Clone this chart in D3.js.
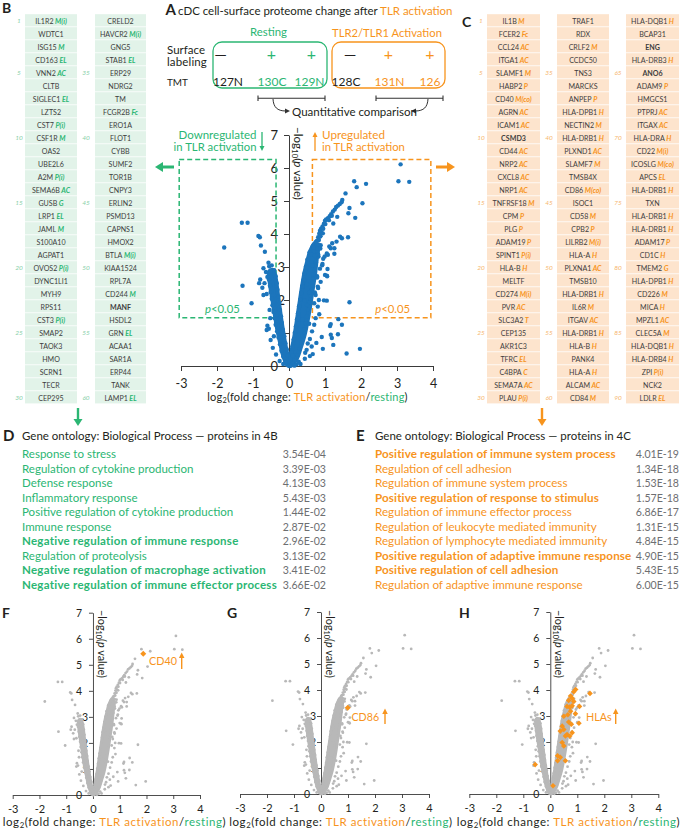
<!DOCTYPE html>
<html><head><meta charset="utf-8">
<script src="https://cdn.jsdelivr.net/npm/d3@7/dist/d3.min.js"></script>
<style>html,body{margin:0;padding:0;background:#fff}svg{display:block}text{white-space:pre}</style>
</head><body>
<svg id="fig" width="681" height="832" font-family="Lato, 'Open Sans', sans-serif"></svg>
<script>
// ---------------- DATA ----------------
const genesB = ["IL1R2","WDTC1","ISG15","CD163","VNN2","CLTB","SIGLEC1","LZTS2","CST7","CSF1R","OAS2","UBE2L6","A2M","SEMA6B","GUSB","LRP1","JAML","S100A10","AGPAT1","OVOS2","DYNC1LI1","MYH9","RPS11","CST3","SMAP2","TAOK3","HMO","SCRN1","TECR","CEP295",
 "CRELD2","HAVCR2","GNG5","STAB1","ERP29","NDRG2","TM","FCGR2B","ERO1A","FLOT1","CYBB","SUMF2","TOR1B","CNPY3","ERLIN2","PSMD13","CAPNS1","HMOX2","BTLA","KIAA1524","RPL7A","CD244","MANF","HSDL2","GRN","ACAA1","SAR1A","ERP44","TANK","LAMP1"];
const catsB = ["M(i)","","M","EL","AC","","EL","","P(i)","M","","","P(i)","AC","G","EL","M","","","P(i)","","","","P(i)","","","","","","",
 "","M(i)","","EL","","","","Fc","","","","","","","","","","","M(i)","","","M","","","EL","","","","","EL"];
const genesC = ["IL1B","FCER2","CCL24","ITGA1","SLAMF1","HABP2","CD40","AGRN","ICAM1","CSMD3","CD44","NRP2","CXCL8","NRP1","TNFRSF18","CPM","PLG","ADAM19","SPINT1","HLA-B","MELTF","CD274","PVR","SLC3A2","CEP135","AKR1C3","TFRC","C4BPA","SEMA7A","PLAU",
 "TRAF1","RDX","CRLF2","CCDC50","TNS3","MARCKS","ANPEP","HLA-DPB1","NECTIN2","HLA-DRB1","PLXND1","SLAMF7","TMSB4X","CD86","ISOC1","CD58","CPB2","LILRB2","HLA-A","PLXNA1","TMSB10","HLA-DRB1","IL6R","ITGAV","HLA-DRB1","HLA-B","PANK4","HLA-A","ALCAM","CD84",
 "HLA-DQB1","BCAP31","ENG","HLA-DRB3","ANO6","ADAM9","HMGCS1","PTPRJ","ITGAX","HLA-DRA","CD22","ICOSLG","APCS","HLA-DRB1","TXN","HLA-DRB1","HLA-DRB1","ADAM17","CD1C","TMEM2","HLA-DPB1","CD226","MICA","MPZL1","CLEC5A","HLA-DQB1","HLA-DRB4","ZPI","NCK2","LDLR"];
const catsC = ["M","Fc","AC","AC","M","P","M(co)","AC","AC","","AC","AC","AC","AC","M","P","P","P","P(i)","H","","M(i)","AC","T","","","EL","C","AC","P(i)",
 "","","M","","","","P","H","M","H","AC","M","","M(co)","","M","P","M(i)","H","AC","","H","M","AC","H","H","","H","AC","M",
 "H","","","H","","P","","AC","AC","H","M(i)","M(co)","EL","H","","H","H","P","H","G","H","M","H","AC","M","H","H","P(i)","","EL"];
const boldGenes = ["MANF","CSMD3","ENG","ANO6"];

const goB_terms = ["Response to stress","Regulation of cytokine production","Defense response","Inflammatory response","Positive regulation of cytokine production","Immune response","Negative regulation of immune response","Regulation of proteolysis","Negative regulation of macrophage activation","Negative regulation of immune effector process"];
const goB_p = ["3.54E-04","3.39E-03","4.13E-03","5.43E-03","1.44E-02","2.87E-02","2.96E-02","3.13E-02","3.41E-02","3.66E-02"];
const goB_bold = [6,8,9];
const goC_terms = ["Positive regulation of immune system process","Regulation of cell adhesion","Regulation of immune system process","Positive regulation of response to stimulus","Regulation of immune effector process","Regulation of leukocyte mediated immunity","Regulation of lymphocyte mediated immunity","Positive regulation of adaptive immune response","Positive regulation of cell adhesion","Regulation of adaptive immune response"];
const goC_p = ["4.01E-19","1.34E-18","1.53E-18","1.57E-18","6.86E-17","1.31E-15","4.84E-15","4.90E-15","5.43E-15","6.00E-15"];
const goC_bold = [0,3,7,8];

const xTicks = [-3,-2,-1,0,1,2,3,4];
const yTicks = [0,1,2,3,4,5,6,7];

// volcano: [log2 fold change, -log10 p]
const outliers = [
 [3.10,6.11],[3.04,5.60],[3.34,5.58],[1.81,5.60],[2.14,5.52],[1.57,5.23],[2.04,4.93],[1.84,4.49],[1.65,4.63],[1.68,4.79],
 [1.48,5.03],[1.46,4.96],[1.41,4.91],[1.36,4.86],[1.31,4.82],[1.27,4.74],[1.22,4.68],[1.17,4.60],[1.13,4.54],[1.08,4.48],[1.03,4.44],[1.00,4.40],[0.97,4.31],[0.93,4.23],[0.89,4.16],[0.86,4.10],[0.84,4.01],[0.81,3.90],[0.78,3.80],[0.76,3.71],[1.19,4.55],[1.11,4.42],[1.01,4.30],[0.95,4.16],[0.90,4.05],[0.87,3.93],[0.83,3.82],
 [1.34,4.52],[1.23,4.32],[1.42,3.92],[1.64,3.90],[1.26,3.57],[1.16,3.57],[1.26,3.40],[1.05,3.41],[0.88,3.66],[1.05,2.74],[1.00,2.76],[1.32,3.77],[1.20,3.72],[0.82,3.32],[0.95,3.25],[1.07,2.94],[0.92,3.05],[1.12,3.62],
 [0.83,2.00],[0.97,1.99],[1.05,1.98],[1.68,1.93],[0.84,1.57],[0.74,1.45],[1.16,1.27],[1.37,1.42],[1.47,1.25],[1.16,0.95],[0.91,0.88],[1.23,0.64],[1.97,0.52],[1.60,0.38],[0.94,0.52],[0.49,0.49],[0.63,0.59],[0.58,0.82],[0.64,1.05],[0.70,1.25],[0.80,2.40],[0.88,2.55],[0.78,2.72],[0.86,2.95],[0.80,1.80],[0.70,1.90],[0.74,2.15],[0.58,0.30],[0.44,0.22],[1.14,1.21],[1.36,0.96],[1.19,0.85],[0.52,0.68],[0.45,0.40],[0.66,0.36],[0.76,0.70],
 [-1.80,3.59],[-1.31,4.34],[-1.15,4.34],[-0.85,3.94],[-0.81,3.90],[-0.78,3.65],[-0.67,3.46],[-0.57,3.13],[-0.55,3.02],[-0.71,2.96],[-1.29,2.43],[-1.04,1.90],[-0.83,2.51],[-0.80,2.62],[-0.68,2.51],[-0.74,2.37],[-0.71,2.15],[-0.62,2.18],[-0.60,2.70],[-0.62,1.09],[-0.54,1.70],[-0.60,1.22],[-0.51,0.79],[-0.42,0.90],[-0.45,0.55],[-0.36,0.35],[-0.26,0.15],[-0.52,1.45],[-0.64,2.85],[-0.48,3.05]
];
const armPoints = [
 [-0.57,2.82],[-0.56,2.62],[-0.53,2.43],[-0.51,2.24],[-0.48,2.04],[-0.46,1.84],[-0.43,1.64],[-0.40,1.45],[-0.37,1.25],[-0.33,1.05],[-0.29,0.86],[-0.25,0.66],[-0.21,0.46],[-0.16,0.29],[-0.10,0.13],
 [-0.41,2.90],[-0.37,2.72],[-0.34,2.51],[-0.32,2.31],[-0.30,2.10],[-0.27,1.91],[-0.25,1.70],[-0.22,1.50],[-0.20,1.31],[-0.17,1.10],[-0.13,0.90],[-0.10,0.69],[-0.06,0.50],[-0.03,0.31],
 [0.80,3.55],[0.77,3.35],[0.75,3.14],[0.72,2.93],[0.69,2.73],[0.66,2.52],[0.63,2.31],[0.60,2.12],[0.57,1.92],[0.53,1.70],[0.50,1.51],[0.46,1.30],[0.42,1.10],[0.38,0.91],[0.34,0.71],[0.30,0.52],[0.24,0.33],[0.16,0.16],
 [0.66,3.62],[0.57,3.44],[0.51,3.22],[0.47,3.01],[0.43,2.81],[0.40,2.60],[0.37,2.41],[0.34,2.21],[0.31,2.01],[0.28,1.81],[0.25,1.60],[0.22,1.41],[0.19,1.20],[0.16,1.01],[0.13,0.80],[0.10,0.60],[0.07,0.41],[0.04,0.22],
 [0.00,0.04],[0.05,0.02],[-0.05,0.03],[0.11,0.07],[-0.09,0.09],[0.21,0.05],[0.15,0.01],[-0.16,0.06],[0.27,0.13],[0.32,0.06]
];
// dense cores (outline of the solid point mass)
const leftArm = [[0.00,0.00],[-0.10,0.15],[-0.18,0.40],[-0.25,0.75],[-0.32,1.10],[-0.38,1.50],[-0.44,1.90],[-0.50,2.30],[-0.54,2.65],[-0.53,2.88],[-0.44,2.90],[-0.38,2.70],[-0.34,2.40],[-0.30,2.05],[-0.25,1.65],[-0.19,1.20],[-0.13,0.80],[-0.07,0.45],[-0.02,0.20]];
const rightArm = [[0.02,0.00],[0.20,0.20],[0.32,0.55],[0.42,0.90],[0.50,1.30],[0.58,1.80],[0.65,2.30],[0.72,2.80],[0.76,3.20],[0.80,3.60],[0.72,3.72],[0.60,3.50],[0.52,3.20],[0.45,2.90],[0.38,2.50],[0.31,2.00],[0.24,1.50],[0.17,1.00],[0.10,0.60],[0.05,0.30],[-0.02,0.08]];
const hlaPts = [[0.94,4.02],[0.87,3.93],[1.47,3.87],[0.75,3.77],[0.81,3.68],[0.68,3.60],[0.87,3.56],[0.62,3.37],[0.72,3.34],[0.81,3.39],[1.08,3.37],[0.75,3.18],[0.93,3.09],[0.65,3.05],[0.50,2.99],[1.06,2.72],[0.68,2.77],[0.44,2.61],[0.78,2.68],[0.37,2.42],[0.50,2.48],[0.62,2.29],[0.72,2.23],[0.56,2.23],[0.81,2.36],[0.44,1.98],[0.50,1.85],[0.27,1.47],[0.37,1.41],[0.27,1.28],[0.56,1.28],[-0.56,1.13],[0.10,0.32]];
const cd40 = [1.88,5.42];
const cd86 = [0.99,3.32];
const gateDown = [-3.05,-0.36], gateUp = [0.65,3.94], gateY = [1.46,6.26];

// ---------------- STYLE ----------------
const GREEN = "#2bb673", ORANGE = "#f7941d", BLUE = "#1c75bc", GRAY = "#b8b8b8", INK = "#231f20";
const CELL_G = "#e2f3e9", CELL_O = "#fde4cd", NUM_G = "#86cfa8", NUM_O = "#f6b56e", PV = "#6d6e71";

const svg = d3.select("#fig");

function T(parent, x, y, parts, o = {}) {
  const t = parent.append("text").attr("x", x).attr("y", y)
    .attr("font-size", o.size || 12).attr("fill", o.fill || INK)
    .attr("text-anchor", o.anchor || "start");
  if (o.weight) t.attr("font-weight", o.weight);
  if (o.italic) t.attr("font-style", "italic");
  if (o.tr) t.attr("transform", o.tr);
  if (o.db) t.attr("dominant-baseline", o.db);
  if (typeof parts === "string") parts = [[parts]];
  parts.forEach(([s, st = {}]) => {
    const sp = t.append("tspan").text(s);
    if (st.fill) sp.attr("fill", st.fill);
    if (st.weight) sp.attr("font-weight", st.weight);
    if (st.italic) sp.attr("font-style", "italic");
    if (st.size) sp.attr("font-size", st.size);
    if (st.dy) sp.attr("dy", st.dy);
  });
  if (o.w) {
    const m = t.node().getComputedTextLength();
    if (m > 0) t.attr("font-size", (o.size || 12) * o.w / m);
  }
  if (o.lw) fitSpacing(t, o.lw);
  return t;
}
function fitSpacing(t, w) {
  t.attr("letter-spacing", 0);
  const m = t.node().getComputedTextLength();
  const n = t.text().length;
  t.attr("letter-spacing", (w - m) / Math.max(1, n));
}
function arrow(x1, y1, x2, y2, col, sw, hl, hw) {
  const a = Math.atan2(y2 - y1, x2 - x1);
  const bx = x2 - hl * Math.cos(a), by = y2 - hl * Math.sin(a);
  svg.append("line").attr("x1", x1).attr("y1", y1).attr("x2", bx + Math.cos(a)).attr("y2", by + Math.sin(a))
    .attr("stroke", col).attr("stroke-width", sw);
  const px = -Math.sin(a) * hw / 2, py = Math.cos(a) * hw / 2;
  svg.append("path").attr("d", `M${x2},${y2}L${bx + px},${by + py}L${bx - px},${by - py}Z`).attr("fill", col);
}

// ---------------- PANELS B & C ----------------
const ROW_H = 13, CELL_TOP = 14.2;
function cellTable(genes, cats, cols, bg, catCol, numCol) {
  const texts = [];
  genes.forEach((g, i) => {
    const c = Math.floor(i / 30), r = i % 30, col = cols[c];
    const top = CELL_TOP + r * ROW_H;
    svg.append("rect").attr("x", col.x).attr("y", top).attr("width", col.w).attr("height", ROW_H - 0.8).attr("fill", bg);
    const parts = [[g, boldGenes.includes(g) ? { weight: "bold" } : {}]];
    if (cats[i]) parts.push([" " + cats[i], { fill: catCol, weight: "bold", italic: true }]);
    texts.push(T(svg, col.x + col.w / 2, top + ROW_H / 2 + 2.8, parts, { size: 8, anchor: "middle", fill: "#3d3d3d" }));
    const n = i + 1;
    if (n === 1 || n % 5 === 0) T(svg, col.nx, top + ROW_H / 2 + 2.4, String(n), { size: 6.5, anchor: "middle", fill: numCol, italic: true });
  });
  return texts;
}
const tB = cellTable(genesB, catsB, [{ x: 25, w: 52, nx: 19 }, { x: 95, w: 51, nx: 86 }], CELL_G, GREEN, NUM_G);
const tC = cellTable(genesC, catsC, [{ x: 487, w: 53, nx: 481 }, { x: 557, w: 52, nx: 549 }, { x: 626, w: 53, nx: 618 }], CELL_O, ORANGE, NUM_O);
(function () {
  const ref = tC[genesC.indexOf("TNFRSF18")];
  const f = 8 * 42 / ref.node().getComputedTextLength();
  tB.concat(tC).forEach(t => t.attr("font-size", f));
})();
T(svg, 2, 13, "B", { size: 14, weight: "bold" });
T(svg, 462, 27, "C", { size: 14, weight: "bold" });
arrow(78, 408, 78, 426, GREEN, 2.4, 7, 9);
arrow(542, 408, 542, 426, ORANGE, 2.4, 7, 9);

// ---------------- PANEL A schematic ----------------
T(svg, 165.5, 15, "A", { size: 15, weight: "bold" });
T(svg, 178, 14.5, [["cDC cell-surface proteome change after "], ["TLR activation", { fill: ORANGE }]], { size: 13, w: 275 });
T(svg, 268.5, 35.5, "Resting", { size: 12.5, anchor: "middle", fill: GREEN, w: 37 });
T(svg, 387, 36.5, "TLR2/TLR1 Activation", { size: 12.5, anchor: "middle", fill: ORANGE, w: 110 });
svg.append("rect").attr("x", 213).attr("y", 42).attr("width", 114).attr("height", 46).attr("rx", 9)
  .attr("fill", "none").attr("stroke", GREEN).attr("stroke-width", 1.3);
svg.append("rect").attr("x", 332).attr("y", 42).attr("width", 113).attr("height", 46).attr("rx", 9)
  .attr("fill", "none").attr("stroke", ORANGE).attr("stroke-width", 1.3);
T(svg, 167, 53.5, "Surface", { size: 11.5, lw: 38 });
T(svg, 167, 66, "labeling", { size: 11.5, lw: 40 });
T(svg, 167, 86, "TMT", { size: 13, w: 21 });
const labelX = [220.5, 271.5, 311.5, 350, 388.5, 430];
const labelSym = ["—", "+", "+", "—", "+", "+"];
const labelCol = [INK, GREEN, GREEN, INK, ORANGE, ORANGE];
labelSym.forEach((s, i) => T(svg, labelX[i], 53, s, { size: 16, anchor: "middle", fill: labelCol[i], db: "central" }));
const tmtX = [228, 272, 309.5, 346, 389.5, 430];
const tmtLab = ["127N", "130C", "129N", "128C", "131N", "126"];
tmtLab.forEach((s, i) => T(svg, tmtX[i], 86, s, { size: 12, anchor: "middle", fill: labelCol[i] }));
[[258, 325], [376, 443]].forEach(([a, b]) => {
  svg.append("path").attr("d", `M${a},95.5V101M${a},98.3H${b}M${b},95.5V101`).attr("stroke", "#333").attr("stroke-width", 1.1).attr("fill", "none");
});
svg.append("path").attr("d", "M273,99 C273.5,107 277,111 286,111").attr("stroke", "#333").attr("stroke-width", 1).attr("fill", "none");
svg.append("path").attr("d", "M290,111 L285,108.5 L285,113.5Z").attr("fill", "#333");
svg.append("path").attr("d", "M428,99 C427.5,107 424,111 415,111").attr("stroke", "#333").attr("stroke-width", 1).attr("fill", "none");
svg.append("path").attr("d", "M411,111 L416,108.5 L416,113.5Z").attr("fill", "#333");
T(svg, 354.5, 115.5, "Quantitative comparison", { size: 12.5, anchor: "middle", w: 125 });

// ---------------- VOLCANO ----------------
function volcano(o) {
  const g = svg.append("g");
  const x = d3.scaleLinear().domain([-3, 4]).range([o.x0, o.x1]);
  const y = d3.scaleLinear().domain([0, 7]).range([o.y0, o.y1]);
  const axX = g.append("g").attr("transform", `translate(0,${o.y0})`)
    .call(d3.axisBottom(x).tickValues(xTicks).tickFormat(d => String(d)).tickSize(o.tk).tickSizeOuter(0).tickPadding(o.xpad));
  const axY = g.append("g").attr("transform", `translate(${x(0)},0)`)
    .call(d3.axisLeft(y).tickValues(yTicks).tickFormat(d => String(d)).tickSize(o.tk).tickSizeOuter(0).tickPadding(o.ypad));
  [axX, axY].forEach(a => {
    a.attr("font-family", null).attr("font-size", null).attr("color", "#3a3a3a");
    a.selectAll("path,line").attr("stroke-width", o.axw);
    a.selectAll("text").attr("fill", INK);
  });
  axX.selectAll("text").attr("font-size", o.xfs);
  axY.selectAll("text").attr("font-size", o.yfs);
  axY.selectAll(".tick").filter(d => d >= 1 && d <= 3).select("text").attr("dx", o.shift);

  if (o.gates) {
    const gate = (xr, col) => g.append("rect").attr("x", x(xr[0])).attr("y", y(gateY[1]))
      .attr("width", x(xr[1]) - x(xr[0])).attr("height", y(gateY[0]) - y(gateY[1]))
      .attr("fill", "none").attr("stroke", col).attr("stroke-width", 1.5).attr("stroke-dasharray", "5,3");
    gate(gateDown, GREEN); gate(gateUp, ORANGE);
  }
  const line = d3.line().x(d => x(d[0])).y(d => y(d[1])).curve(d3.curveCatmullRomClosed);
  [leftArm, rightArm].forEach(p => g.append("path").attr("d", line(p)).attr("fill", o.col)
    .attr("stroke", o.col).attr("stroke-width", o.sw).attr("stroke-linejoin", "round"));
  const all = armPoints.concat(outliers, hlaPts, [cd40, cd86]);
  g.append("g").selectAll("circle").data(all).join("circle")
    .attr("cx", d => x(d[0])).attr("cy", d => y(d[1])).attr("r", o.r).attr("fill", o.col);
  const diamond = (d, s) => `M${x(d[0])},${y(d[1]) - s}L${x(d[0]) + s},${y(d[1])}L${x(d[0])},${y(d[1]) + s}L${x(d[0]) - s},${y(d[1])}Z`;
  if (o.hi) g.append("g").selectAll("path").data(o.hi).join("path").attr("d", d => diamond(d, o.hs)).attr("fill", ORANGE);

  T(svg, o.ytx, o.yty, [["−log"], ["10", { size: "68%", dy: 2 }], ["(", { dy: -2 }], ["p", { italic: true }], [" value)"]],
    { size: 11, tr: `rotate(90 ${o.ytx} ${o.yty})`, w: o.ytw });
  T(svg, o.xtx, o.xty, [["log"], ["2", { size: "68%", dy: 2 }], ["(fold change: ", { dy: -2 }], ["TLR activation", { fill: ORANGE }], ["/"], ["resting", { fill: GREEN }], [")"]],
    { size: o.xts, anchor: "middle", lw: o.xtw });
  return { x, y };
}

const main = volcano({ x0: 181, x1: 433, y0: 366, y1: 135, tk: 5, xpad: 8, ypad: 6, axw: 1, xfs: 12.5, yfs: 13, shift: 7,
  col: BLUE, r: 2.2, sw: 4.4, gates: true, ytx: 294, yty: 127, ytw: 73, xtx: 307.5, xty: 400.5, xtw: 201, xts: 11 });
T(svg, main.x(-1.85), 313, [["p", { italic: true }], ["<0.05"]], { size: 12.5, anchor: "middle", fill: GREEN, w: 35 });
T(svg, main.x(2.88), 313, [["p", { italic: true }], ["<0.05"]], { size: 12.5, anchor: "middle", fill: ORANGE, w: 35 });
T(svg, 256.5, 139, "Downregulated", { size: 12.5, anchor: "end", fill: GREEN, w: 78 });
T(svg, 256.5, 151, "in TLR activation", { size: 12.5, anchor: "end", fill: GREEN, w: 83 });
arrow(262, 132, 262, 151, GREEN, 1.3, 5, 5);
T(svg, 322, 139, "Upregulated", { size: 12.5, fill: ORANGE, w: 63 });
T(svg, 322, 151, "in TLR activation", { size: 12.5, fill: ORANGE, w: 83 });
arrow(315, 151, 315, 132, ORANGE, 1.3, 5, 5);
arrow(174, 167, 155, 167, GREEN, 3, 8, 10);
arrow(436, 167, 455, 167, ORANGE, 3, 8, 10);

// ---------------- PANELS D & E ----------------
function goPanel(letter, lx, tx, title, terms, ps, bold, col, valX, regIdx, regW, boldIdx, boldW, valW) {
  T(svg, lx, 441, letter, { size: 15, weight: "bold" });
  T(svg, tx, 440, title, { size: 12.5, w: 256 });
  const rows = terms.map((t, i) => T(svg, tx, 458 + i * 14.5, t, { size: 12, fill: col, weight: bold.includes(i) ? "bold" : null }));
  const vals = ps.map((p, i) => T(svg, valX, 458 + i * 14.5, p, { size: 12, fill: PV, anchor: "end" }));
  const f = 12 * regW / rows[regIdx].node().getComputedTextLength();
  rows.forEach(t => t.attr("font-size", f));
  const br = rows[boldIdx];
  const ls = (boldW - br.node().getComputedTextLength()) / br.text().length;
  bold.forEach(i => rows[i].attr("letter-spacing", ls));
  const fv = 12 * valW / vals[0].node().getComputedTextLength();
  vals.forEach(t => t.attr("font-size", fv));
}
goPanel("D", 3, 22, "Gene ontology: Biological Process — proteins in 4B", goB_terms, goB_p, goB_bold, GREEN, 326, 4, 211.5, 9, 255, 43.3);
goPanel("E", 356, 375, "Gene ontology: Biological Process — proteins in 4C", goC_terms, goC_p, goC_bold, ORANGE, 679, 6, 232.5, 7, 257, 43.3);

// ---------------- PANELS F G H ----------------
const small = { tk: 4, xpad: 6, ypad: 7, axw: 0.9, xfs: 11, yfs: 10.5, shift: 6, col: GRAY, r: 1.4, sw: 2.8, hs: 3, yty: 610, ytw: 68, xty: 826, xtw: 224, xts: 11.5 };
const F = volcano(Object.assign({}, small, { x0: 12.7, x1: 200, y0: 795, y1: 612.7, ytx: 97.5, xtx: 114.5, hi: [cd40] }));
const G = volcano(Object.assign({}, small, { x0: 240, x1: 429, y0: 794, y1: 612, ytx: 325.5, xtx: 341, hi: [cd86] }));
const H = volcano(Object.assign({}, small, { x0: 469.3, x1: 658.3, y0: 794, y1: 612, ytx: 555, xtx: 568.5, hi: hlaPts, hs: 2.8 }));
T(svg, 2, 618, "F", { size: 14, weight: "bold" });
T(svg, 227, 618, "G", { size: 14, weight: "bold" });
T(svg, 459, 618, "H", { size: 14, weight: "bold" });
T(svg, 149, 665, "CD40", { size: 13, fill: ORANGE, w: 28 });
arrow(181.7, 669, 181.7, 652.5, ORANGE, 1.4, 5.5, 5.5);
T(svg, 351.5, 720.5, "CD86", { size: 13, fill: ORANGE, w: 27.6 });
arrow(385, 724, 385, 708.5, ORANGE, 1.4, 5.5, 5.5);
T(svg, 586, 720.5, "HLAs", { size: 13, fill: ORANGE, w: 25.7 });
arrow(615.7, 724, 615.7, 708.5, ORANGE, 1.4, 5.5, 5.5);
</script></body></html>
